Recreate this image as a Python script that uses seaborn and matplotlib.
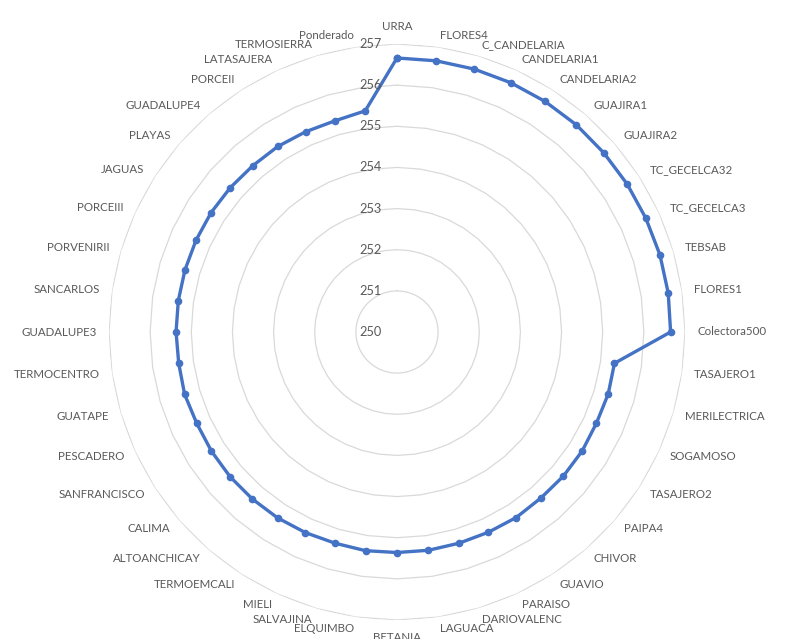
import numpy as np
import matplotlib
matplotlib.use('Agg')
import matplotlib.pyplot as plt
from matplotlib.transforms import offset_copy
import seaborn as sns

# categories, clockwise from the top
plants = ['URRA', 'FLORES4', 'C_CANDELARIA', 'CANDELARIA1', 'CANDELARIA2', 'GUAJIRA1',
          'GUAJIRA2', 'TC_GECELCA32', 'TC_GECELCA3', 'TEBSAB', 'FLORES1', 'Colectora500',
          'TASAJERO1', 'MERILECTRICA', 'SOGAMOSO', 'TASAJERO2', 'PAIPA4', 'CHIVOR',
          'GUAVIO', 'PARAISO', 'DARIOVALENC', 'LAGUACA', 'BETANIA', 'ELQUIMBO',
          'SALVAJINA', 'MIELI', 'TERMOEMCALI', 'ALTOANCHICAY', 'CALIMA', 'SANFRANCISCO',
          'PESCADERO', 'GUATAPE', 'TERMOCENTRO', 'GUADALUPE3', 'SANCARLOS', 'PORVENIRII',
          'PORCEIII', 'JAGUAS', 'PLAYAS', 'GUADALUPE4', 'PORCEII', 'LATASAJERA',
          'TERMOSIERRA', 'Ponderado']

values = [256.66, 256.66, 256.66, 256.66, 256.66, 256.66,
          256.65, 256.65, 256.65, 256.66, 256.66, 256.65,
          255.34, 255.35, 255.33, 255.35, 255.35, 255.34,
          255.36, 255.35, 255.35, 255.36, 255.36, 255.37,
          255.35, 255.36, 255.37, 255.37, 255.37, 255.36,
          255.35, 255.38, 255.36, 255.37, 255.37, 255.37,
          255.37, 255.37, 255.36, 255.35, 255.36, 255.35,
          255.35, 255.43]

r_ticks = [250, 251, 252, 253, 254, 255, 256, 257]

sns.set_style('white')
plt.rcParams['font.family'] = ['Lato', 'DejaVu Sans']

text_color = '#595959'
line_color = '#4472C4'
grid_color = '#D9D9D9'

fig = plt.figure(figsize=(7.9, 6.39), dpi=100)
# centre at (397, 332) px, outer ring radius 288 px
ax = fig.add_axes([109 / 790, 19 / 639, 576 / 790, 576 / 639], projection='polar')
ax.set_theta_zero_location('N')
ax.set_theta_direction(-1)

n = len(plants)
theta = np.arange(n) * 2 * np.pi / n
theta_closed = np.append(theta, theta[0])

# ring gridlines (polygons through the category spokes)
for lvl in r_ticks[1:]:
    ax.plot(theta_closed, [lvl] * (n + 1), color=grid_color, linewidth=0.9, zorder=1)

vals_closed = np.append(values, values[0])
sns.lineplot(x=theta_closed, y=vals_closed, sort=False, ax=ax, color=line_color,
             linewidth=2.4, marker='o', markersize=5.5, markeredgewidth=0,
             estimator=None, zorder=3)

ax.set_ylim(r_ticks[0], r_ticks[-1])
ax.set_xlabel('')
ax.set_ylabel('')
ax.axis('off')

# value labels along the vertical axis
tick_tr = offset_copy(ax.transData, fig=fig, x=-15, y=0, units='dots')
for lvl in r_ticks:
    ax.text(0, lvl, str(lvl), transform=tick_tr, ha='right', va='center',
            fontsize=9.2, color=text_color, zorder=5)

# category labels around the outside
gap = 12
for th, name in zip(theta, plants):
    s, c = np.sin(th), np.cos(th)
    tr = offset_copy(ax.transData, fig=fig, x=gap * s, y=gap * c, units='dots')
    if abs(s) < 0.05:
        ha = 'center'
        va = 'bottom' if c > 0 else 'top'
    else:
        ha = 'left' if s > 0 else 'right'
        va = 'center'
    ax.text(th, r_ticks[-1], name, transform=tr, ha=ha, va=va,
            fontsize=8.3, color=text_color, clip_on=False, zorder=5)

fig.savefig('out.png', dpi=100)
